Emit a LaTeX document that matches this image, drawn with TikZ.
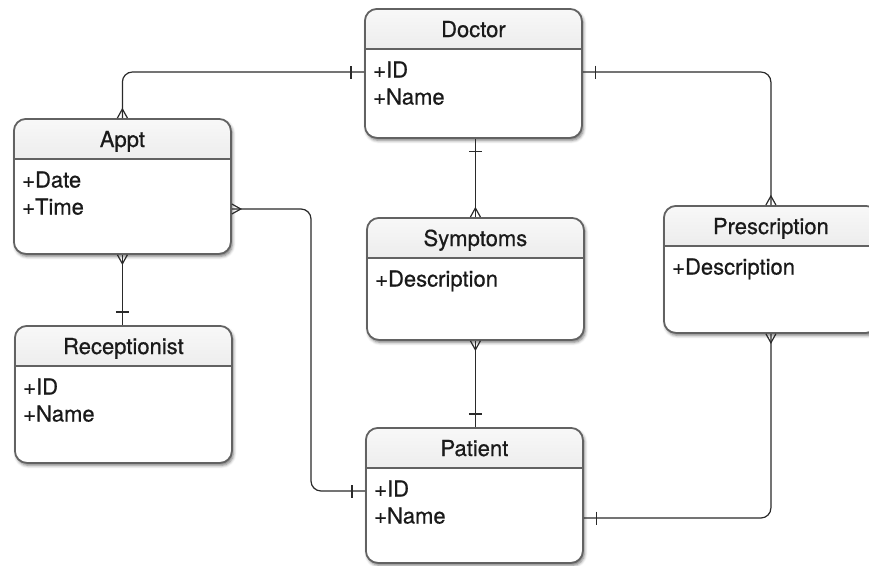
\documentclass[tikz,border=0pt]{standalone}
\usepackage{fontspec}
\setmainfont{TeX Gyre Heros}
\newfontfamily\erfont{TeX Gyre Heros}[FakeBold=0.6]
\usetikzlibrary{calc,shadows.blur}

\definecolor{hdtop}{HTML}{F8F8F8}
\definecolor{hdbot}{HTML}{D3D3D3}
\definecolor{edge}{HTML}{626262}
\definecolor{wire}{HTML}{2A2A2A}
\definecolor{ink}{HTML}{1A1A1A}

\tikzset{
  entity/.style={draw=edge, line width=1.8pt, rounded corners=12pt, fill=white,
    anchor=north west, minimum width=217pt, inner sep=0pt,
    blur shadow={shadow xshift=1.5pt, shadow yshift=-2.5pt,
                 shadow blur radius=3pt, shadow opacity=55},
    path picture={\shade[sharp corners, top color=hdtop, bottom color=hdbot]
      (path picture bounding box.north west) rectangle
      ([yshift=-41pt]path picture bounding box.north east);}},
  etitle/.style={anchor=base, inner sep=0pt, text=ink,
    font=\erfont\fontsize{22}{26}\selectfont},
  eattr/.style={anchor=west, inner sep=0pt, text height=16pt, text depth=5pt,
    text=ink, font=\erfont\fontsize{22}{26}\selectfont},
  divider/.style={draw=edge, line width=1.4pt, shorten <=0.9pt, shorten >=0.9pt},
  rel/.style={draw=wire, line width=1.2pt, rounded corners=10pt},
  relmark/.style={draw=wire, line width=1.2pt},
}

% "one" end: a bar across the line, 13pt out from the box
\newcommand\onebar[2]{%
  \draw[relmark] ($(#1)+(#2:13pt)+(#2+90:6.5pt)$) -- ($(#1)+(#2:13pt)+(#2-90:6.5pt)$);}
% "many" end: a crow's foot spreading onto the box
\newcommand\manyfoot[2]{%
  \draw[relmark] ($(#1)+(#2+90:5pt)$) -- ($(#1)+(#2:9pt)$) -- ($(#1)+(#2-90:5pt)$);}

\begin{document}
\begin{tikzpicture}[x=1pt, y=-1pt]
\useasboundingbox (0,0) rectangle (869,565);

% ---------- entities ----------
\node[entity, minimum height=129pt] (doctor) at (364,8) {};
\node[entity, minimum height=135pt] (appt) at (13,118) {};
\node[entity, minimum height=137pt] (recep) at (14,325) {};
\node[entity, minimum height=122pt] (sympt) at (366,217) {};
\node[entity, minimum height=127pt, minimum width=214pt] (presc) at (663,205) {};
\node[entity, minimum height=135pt] (patient) at (365,427) {};

\foreach \e in {doctor,appt,recep,sympt,presc,patient}
  \draw[divider] ([yshift=-41pt]\e.north west) -- ([yshift=-41pt]\e.north east);

% titles
\node[etitle] (doctorT)  at ([yshift=-29pt]doctor.north)  {Doctor};
\node[etitle] (apptT)    at ([yshift=-29pt]appt.north)    {Appt};
\node[etitle] (recepT)   at ([yshift=-29pt]recep.north)   {Receptionist};
\node[etitle] (symptT)   at ([yshift=-29pt]sympt.north)   {Symptoms};
\node[etitle] (prescT)   at ([yshift=-29pt]presc.north)   {Prescription};
\node[etitle] (patientT) at ([yshift=-29pt]patient.north) {Patient};

% attributes
\node[eattr] (doctorA1)  at ([xshift=9pt,yshift=-64pt]doctor.north west)  {+ID};
\node[eattr] (doctorA2)  at ([xshift=9pt,yshift=-91pt]doctor.north west)  {+Name};
\node[eattr] (apptA1)    at ([xshift=9pt,yshift=-64pt]appt.north west)    {+Date};
\node[eattr] (apptA2)    at ([xshift=9pt,yshift=-91pt]appt.north west)    {+Time};
\node[eattr] (recepA1)   at ([xshift=9pt,yshift=-64pt]recep.north west)   {+ID};
\node[eattr] (recepA2)   at ([xshift=9pt,yshift=-91pt]recep.north west)   {+Name};
\node[eattr] (symptA1)   at ([xshift=9pt,yshift=-64pt]sympt.north west)   {+Description};
\node[eattr] (prescA1)   at ([xshift=9pt,yshift=-64pt]presc.north west)   {+Description};
\node[eattr] (patientA1) at ([xshift=9pt,yshift=-64pt]patient.north west) {+ID};
\node[eattr] (patientA2) at ([xshift=9pt,yshift=-91pt]patient.north west) {+Name};

% ---------- relationships ----------
% Doctor -- Appt
\coordinate (c1a) at (doctor.west |- doctorA1);
\coordinate (c1b) at (appt.north);
\draw[rel] (c1a) -| (c1b);
\onebar{c1a}{180} \manyfoot{c1b}{90}

% Doctor -- Prescription
\coordinate (c2a) at (doctor.east |- doctorA1);
\coordinate (c2b) at (presc.north);
\draw[rel] (c2a) -| (c2b);
\onebar{c2a}{0} \manyfoot{c2b}{90}

% Doctor -- Symptoms
\coordinate (c3a) at (sympt.north |- doctor.south);
\coordinate (c3b) at (sympt.north);
\draw[rel] (c3a) -- (c3b);
\onebar{c3a}{-90} \manyfoot{c3b}{90}

% Appt -- Receptionist
\coordinate (c4a) at (appt.south);
\coordinate (c4b) at (appt.south |- recep.north);
\draw[rel] (c4a) -- (c4b);
\manyfoot{c4a}{-90} \onebar{c4b}{90}

% Appt -- Patient
\coordinate (knee) at (311,0);
\coordinate (c5a) at (appt.east |- apptA2);
\coordinate (c5b) at (patient.west |- patientA1);
\draw[rel] (c5a) -- (knee |- c5a) -- (knee |- c5b) -- (c5b);
\manyfoot{c5a}{0} \onebar{c5b}{180}

% Symptoms -- Patient
\coordinate (c6a) at (sympt.south);
\coordinate (c6b) at (sympt.south |- patient.north);
\draw[rel] (c6a) -- (c6b);
\manyfoot{c6a}{-90} \onebar{c6b}{90}

% Prescription -- Patient
\coordinate (c7a) at (presc.south);
\coordinate (c7b) at (patient.east |- patientA2);
\draw[rel] (c7a) |- (c7b);
\manyfoot{c7a}{-90} \onebar{c7b}{0}
\end{tikzpicture}
\end{document}
